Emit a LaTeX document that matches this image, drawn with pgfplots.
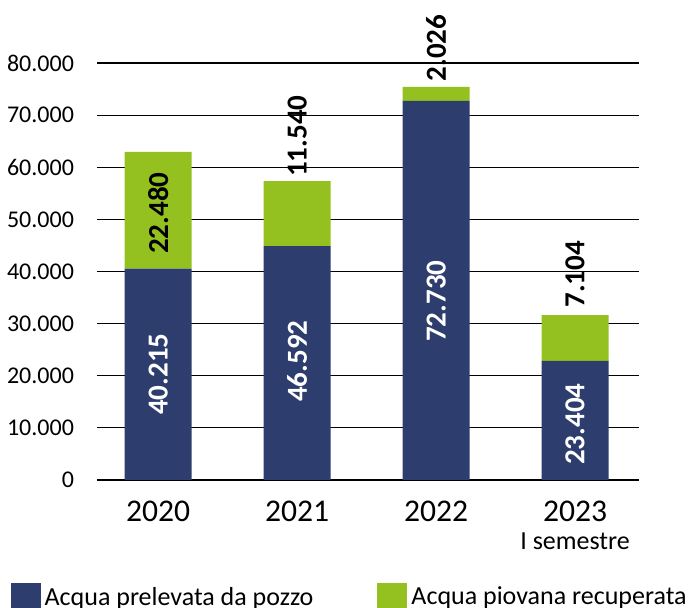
\documentclass[border=0pt]{standalone}
\usepackage{fontspec}
\setmainfont{Carlito}
\usepackage{pgfplots}
\pgfplotsset{compat=1.18}
\definecolor{cPozzo}{HTML}{2C3D6E}
\definecolor{cPiovana}{HTML}{94C11F}
\newcommand{\valfont}{\fontsize{14.5}{16}\selectfont\bfseries}

\begin{document}
\begin{tikzpicture}
\useasboundingbox (-48.5pt,-64pt) rectangle (297.5pt,240pt);
\begin{axis}[
  scale only axis, width=271pt, height=208.5pt,
  xmin=-0.44, xmax=3.46, ymin=0, ymax=80000,
  ybar stacked, bar width=33.5pt,
  axis line style={draw=none}, major tick length=0pt,
  ymajorgrids, grid style={black, line width=0.6pt},
  scaled y ticks=false,
  ytick={0,10000,...,80000},
  yticklabels={0,10.000,20.000,30.000,40.000,50.000,60.000,70.000,80.000},
  y tick label style={font=\fontsize{12}{14}\selectfont, xshift=-8pt},
  xtick={0,1,2,3},
  xticklabels={2020,2021,2022,{2023\\[-3pt]{\fontsize{13}{13}\selectfont I semestre}}},
  x tick label style={font=\fontsize{15.8}{17}\selectfont, align=center, yshift=-7pt},
  clip=false,
  legend columns=2,
  legend style={at={(axis description cs:-0.160,-0.245)}, anchor=north west,
    draw=none, fill=none, inner sep=0pt, font=\fontsize{13}{15}\selectfont,
    nodes={inner sep=2pt},
    /tikz/every even column/.append style={column sep=30pt}},
  legend image code/.code={\fill[#1] (0pt,-7.5pt) rectangle (15pt,7.5pt);},
]
\addplot[fill=cPozzo, draw=none] coordinates {(0,40540) (1,44890) (2,72710) (3,22830)};
\addlegendentry{Acqua prelevata da pozzo}
\addplot[fill=cPiovana, draw=none] coordinates {(0,22390) (1,12470) (2,2690) (3,8820)};
\addlegendentry{Acqua piovana recuperata}

\coordinate (a1) at (axis cs:0,20300);
\coordinate (a2) at (axis cs:0,51200);
\coordinate (b1) at (axis cs:1,22800);
\coordinate (b2) at (axis cs:1,58100);
\coordinate (c1) at (axis cs:2,34300);
\coordinate (c2) at (axis cs:2,76400);
\coordinate (d1) at (axis cs:3,10700);
\coordinate (d2) at (axis cs:3,33000);
\end{axis}
\node[rotate=90, font=\valfont, text=white] at (a1) {40.215};
\node[rotate=90, font=\valfont] at (a2) {22.480};
\node[rotate=90, font=\valfont, text=white] at (b1) {46.592};
\node[rotate=90, font=\valfont, anchor=west, inner sep=0pt] at (b2) {11.540};
\node[rotate=90, font=\valfont, text=white] at (c1) {72.730};
\node[rotate=90, font=\valfont, anchor=west, inner sep=0pt] at (c2) {2.026};
\node[rotate=90, font=\valfont, text=white] at (d1) {23.404};
\node[rotate=90, font=\valfont, anchor=west, inner sep=0pt] at (d2) {7.104};
\end{tikzpicture}
\end{document}
